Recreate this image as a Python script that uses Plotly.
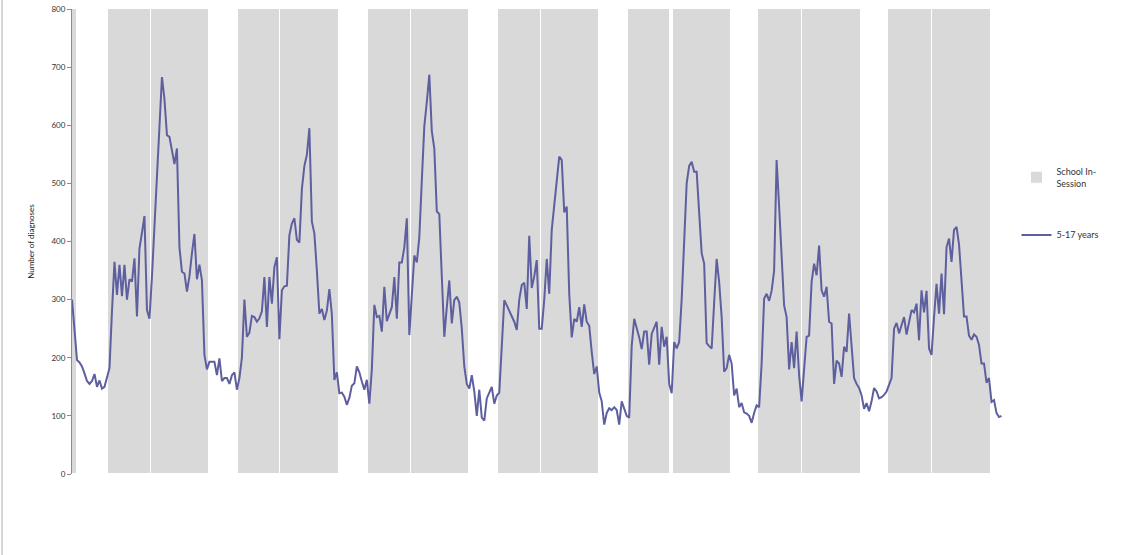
import plotly.graph_objects as go

# Weekly number of diagnoses, ages 5-17 (week index 0..372)
diagnoses = [
    300, 250, 196, 192, 185, 173, 160, 155, 160, 172,
    150, 161, 147, 150, 165, 182, 280, 365, 308, 360,
    306, 360, 300, 335, 331, 371, 271, 388, 415, 444,
    282, 267, 340, 420, 520, 600, 683, 645, 583, 580,
    555, 533, 560, 390, 348, 345, 314, 340, 380, 413,
    335, 360, 333, 205, 180, 193, 193, 193, 170, 199,
    160, 165, 165, 155, 170, 175, 145, 165, 200, 300,
    236, 243, 272, 270, 262, 268, 280, 339, 253, 339,
    293, 356, 373, 232, 316, 323, 324, 411, 431, 440,
    403, 398, 490, 530, 549, 595, 434, 414, 350, 276,
    284, 265, 281, 318, 275, 162, 175, 139, 140, 133,
    119, 131, 152, 156, 185, 175, 159, 145, 162, 121,
    180, 291, 270, 272, 245, 322, 263, 277, 287, 339,
    267, 364, 364, 390, 440, 239, 300, 376, 364, 407,
    505, 598, 640, 687, 590, 560, 452, 447, 340, 236,
    287, 333, 259, 299, 305, 295, 250, 185, 155, 147,
    170, 142, 100, 145, 97, 92, 130, 139, 150, 121,
    135, 140, 210, 299, 290, 280, 270, 262, 248, 300,
    325, 329, 284, 410, 320, 340, 368, 250, 250, 300,
    370, 310, 420, 460, 510, 546, 540, 450, 460, 310,
    235, 267, 262, 287, 253, 292, 262, 255, 210, 172,
    185, 140, 125, 85, 105, 113, 110, 115, 110, 85,
    125, 112, 100, 97, 220, 267, 253, 235, 215, 245,
    245, 188, 241, 253, 262, 188, 253, 219, 236, 155,
    139, 227, 216, 227, 300, 400, 500, 530, 537, 520,
    520, 450, 380, 362, 225, 220, 216, 295, 370, 330,
    270, 176, 182, 205, 190, 135, 147, 115, 122, 106,
    104, 100, 88, 105, 118, 115, 190, 302, 310, 298,
    315, 350, 540, 460, 380, 290, 270, 180, 227, 182,
    245, 170, 125, 182, 236, 238, 330, 362, 342, 393,
    316, 305, 322, 262, 259, 155, 195, 190, 167, 219,
    210, 276, 219, 165, 155, 148, 135, 112, 122, 108,
    125, 148, 142, 130, 132, 136, 142, 152, 165, 250,
    260, 242, 255, 270, 240, 263, 282, 278, 293, 230,
    316, 278, 315, 216, 205, 270, 327, 276, 345, 275,
    390, 405, 365, 420, 425, 395, 330, 271, 271, 238,
    231, 240, 236, 222, 190, 190, 157, 165, 124, 127,
    105, 98, 100,
]
weeks = list(range(len(diagnoses)))

# School terms (in week index units): start and end of each in-session term
term_start = [-1.0, 14.5, 31.5, 66.5, 83.3, 118.5, 135.5, 170.5, 187.5,
              222.5, 240.4, 274.5, 292.3, 326.5, 344.3]
term_end = [2.1, 31.5, 54.8, 83.3, 106.8, 135.5, 158.9, 187.5, 210.8,
            239.3, 263.6, 292.3, 315.9, 344.3, 367.9]
session_level = 800

term_center = [(s + e) / 2 for s, e in zip(term_start, term_end)]
term_width = [e - s for s, e in zip(term_start, term_end)]

fig = go.Figure()
fig.add_trace(go.Bar(
    x=term_center, y=[session_level] * len(term_center), width=term_width,
    name="School In-<br>Session", marker=dict(color="#d9d9d9",
    line=dict(color="white", width=1)),
    legendgroup="a", hoverinfo="skip",
))
fig.add_trace(go.Scatter(
    x=weeks, y=diagnoses, mode="lines", name="5-17 years",
    line=dict(color="#5e5f9e", width=2), legendgroup="b",
))

W, H = 1130, 555
ml, mt = 72, 9
pw, ph = 932.5, 465
mr = W - ml - pw
mb = H - mt - ph

fig.update_layout(
    width=W, height=H,
    margin=dict(l=ml, r=mr, t=mt, b=mb, pad=0, autoexpand=False),
    plot_bgcolor="white", paper_bgcolor="white",
    font=dict(family="Lato, Open Sans, sans-serif", color="#333333"),
    barmode="overlay", bargap=0,
    showlegend=True,
    legend=dict(x=(1017 - ml) / pw, y=(474 - 159) / ph, xanchor="left", yanchor="top",
                font=dict(size=9, color="#333333"), traceorder="grouped",
                tracegroupgap=35, bgcolor="rgba(0,0,0,0)"),
    xaxis=dict(range=[0, 373], visible=False, showgrid=False, zeroline=False,
               automargin=False),
    yaxis=dict(range=[0, 800], dtick=100, showgrid=False, zeroline=False,
               showline=True, linecolor="#8c8c8c", linewidth=1, automargin=False,
               ticks="outside", ticklen=4, tickcolor="#8c8c8c",
               tickfont=dict(size=8, color="#333333"), ticklabeloverflow="allow",
               title=dict(text="Number of diagnoses", font=dict(size=8, color="#222222"),
                          standoff=15)),
    shapes=[dict(type="line", xref="paper", yref="paper",
                 x0=(2 - ml) / pw, x1=(2 - ml) / pw, y0=-mb / ph, y1=1 + mt / ph,
                 line=dict(color="#c8c8c8", width=1.5))],
)

fig.write_html("out.html", config={"displayModeBar": False},
               post_script="document.body.style.margin='0px';")
